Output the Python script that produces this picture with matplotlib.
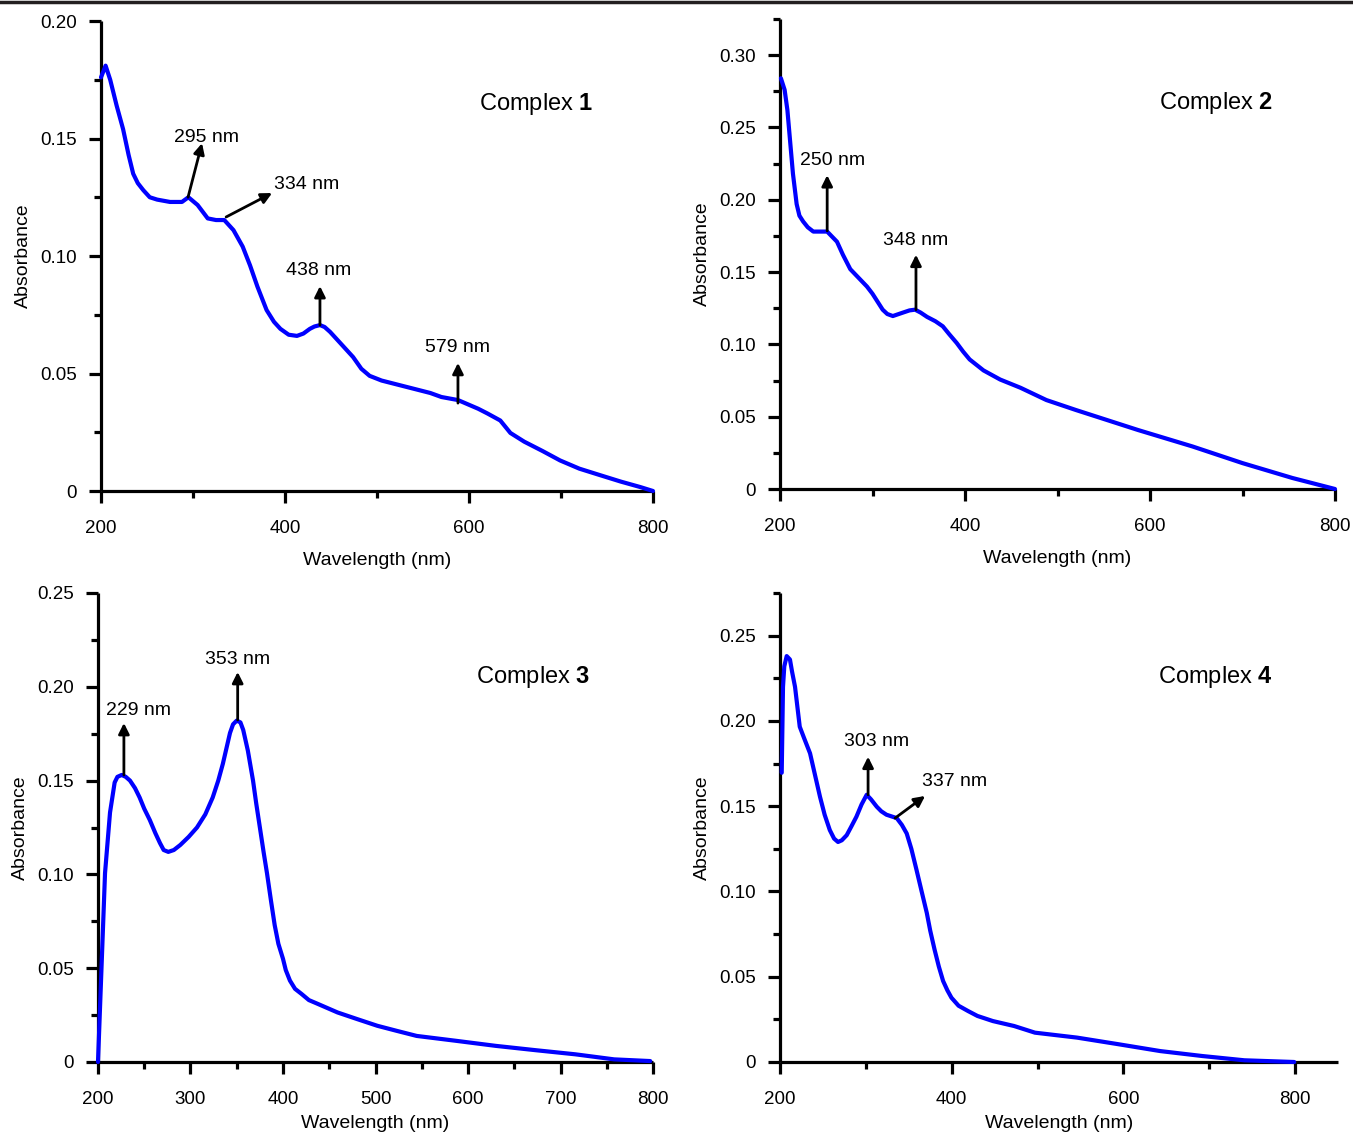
import matplotlib
matplotlib.use("Agg")
import matplotlib.pyplot as plt
from matplotlib.ticker import FixedLocator, FuncFormatter
from matplotlib.lines import Line2D

plt.rcParams['font.family'] = ['Liberation Sans', 'DejaVu Sans']
plt.rcParams['mathtext.fontset'] = 'custom'
plt.rcParams['mathtext.rm'] = 'Liberation Sans'
plt.rcParams['mathtext.bf'] = 'Liberation Sans:bold'

# ---------------- data ----------------
wl1 = [200, 205, 210, 217, 224, 230, 235, 240, 246, 253, 261, 275, 288, 295, 305, 316, 325, 334, 344,
       354, 362, 370, 380, 388, 395, 404, 413, 420, 427, 432, 438, 443, 449, 460, 474, 483, 492, 505,
       525, 540, 558, 570, 588, 610, 620, 634, 645, 660, 680, 699, 720, 742, 765, 786, 800]
ab1 = [0.176, 0.181, 0.175, 0.164, 0.154, 0.143, 0.135, 0.131, 0.128, 0.125, 0.124, 0.123, 0.123,
       0.125, 0.1217, 0.116, 0.1153, 0.1153, 0.111, 0.104, 0.096, 0.087, 0.077, 0.072, 0.069, 0.0665,
       0.066, 0.067, 0.069, 0.070, 0.0706, 0.0698, 0.0677, 0.063, 0.057, 0.052, 0.049, 0.047, 0.045,
       0.0435, 0.0417, 0.040, 0.0387, 0.035, 0.033, 0.030, 0.0247, 0.021, 0.017, 0.013, 0.0095, 0.0068,
       0.004, 0.0017, 0.0]

wl2 = [201, 205, 208, 211, 214, 218, 221, 225, 230, 236, 251, 261.6, 268, 276, 285, 294, 300, 305, 311,
       316, 322, 333, 340, 346, 352, 359, 368, 376, 383, 391, 398, 405, 420, 438, 460, 488, 520, 587,
       646, 700, 754, 800]
ab2 = [0.284, 0.276, 0.262, 0.240, 0.218, 0.197, 0.189, 0.185, 0.181, 0.178, 0.178, 0.171, 0.162,
       0.152, 0.146, 0.140, 0.135, 0.130, 0.124, 0.121, 0.1196, 0.122, 0.1235, 0.124, 0.122, 0.119,
       0.116, 0.1125, 0.107, 0.101, 0.095, 0.0896, 0.082, 0.0757, 0.070, 0.0615, 0.0546, 0.0408, 0.0294,
       0.0179, 0.0076, 0.0]

wl3 = [200, 207.6, 213, 218, 221, 225.6, 230, 234.6, 240, 245, 250, 256, 262, 267, 271, 276, 282, 289,
       298, 307, 316, 324, 330, 335, 342.7, 346, 350, 354, 357, 362, 367.6, 371, 375, 379, 382.7, 387,
       391, 395, 400, 403, 407.5, 413, 420, 428, 437.5, 459, 480, 502, 523, 544.5, 587, 630, 673, 716,
       758, 797]
ab3 = [0.0, 0.1007, 0.133, 0.149, 0.152, 0.153, 0.152, 0.150, 0.146, 0.141, 0.135, 0.129, 0.122,
       0.1167, 0.113, 0.112, 0.113, 0.1157, 0.120, 0.125, 0.132, 0.141, 0.150, 0.159, 0.1754, 0.180,
       0.182, 0.181, 0.177, 0.166, 0.150, 0.138, 0.125, 0.112, 0.1006, 0.086, 0.073, 0.063, 0.055,
       0.049, 0.0434, 0.039, 0.0363, 0.033, 0.031, 0.0264, 0.0229, 0.0193, 0.0166, 0.0139, 0.0113,
       0.0086, 0.0063, 0.0041, 0.0014, 0.0005]

wl4 = [202, 203.5, 205, 207.8, 211.6, 214, 217.5, 223, 228, 235, 240, 246.6, 252, 258, 263, 267.6, 272,
       277.7, 283, 289, 295, 301, 306, 312.7, 318, 324, 330, 336, 342, 347.6, 353, 359, 365, 371, 375,
       380, 385, 390, 395, 399.7, 408, 419, 430, 448, 472.7, 497, 546, 594.5, 643, 692, 741, 799]
ab4 = [0.1696, 0.220, 0.232, 0.238, 0.236, 0.229, 0.220, 0.1966, 0.190, 0.181, 0.170, 0.1555, 0.145,
       0.136, 0.131, 0.129, 0.130, 0.133, 0.138, 0.1438, 0.151, 0.1567, 0.154, 0.1497, 0.147, 0.145,
       0.144, 0.143, 0.139, 0.134, 0.125, 0.1127, 0.100, 0.0874, 0.077, 0.066, 0.056, 0.0475, 0.042,
       0.0377, 0.033, 0.0299, 0.027, 0.024, 0.0211, 0.0172, 0.0143, 0.0104, 0.0064, 0.0035, 0.001, 0.0]

labels1 = ["295 nm", "334 nm", "438 nm", "579 nm"]
labels2 = ["250 nm", "348 nm"]
labels3 = ["229 nm", "353 nm"]
labels4 = ["303 nm", "337 nm"]
titles = ["1", "2", "3", "4"]

# ---------------- layout / styles ----------------
W, H = 1353, 1133
fig = plt.figure(figsize=(W / 100, H / 100), dpi=100)


def frac(l, r, t, b):
    return [l / W, 1 - b / H, (r - l) / W, (b - t) / H]


panels = [
    dict(wl=wl1, ab=ab1, rect=frac(101, 653, 21, 491), xlim=(200, 800), ylim=(0, 0.20),
         xmaj=[200, 400, 600, 800], xmin=[300, 500, 700],
         ymaj=[0, 0.05, 0.10, 0.15, 0.20], ymin=[0.025, 0.075, 0.125, 0.175],
         title_pos=(673, 0.1647), labels=labels1, xlabelpad=11,
         ann=[((315, 0.1506), (294.6, 0.125), (309.8, 0.148)),
              ((423, 0.1306), (336, 0.1166), (386, 0.1268)),
              ((437, 0.094), (438, 0.0706), (438, 0.0872)),
              ((587, 0.0609), (588, 0.0374), (588, 0.0545))]),
    dict(wl=wl2, ab=ab2, rect=frac(780, 1335, 19, 489), xlim=(200, 800), ylim=(0, 0.325),
         xmaj=[200, 400, 600, 800], xmin=[300, 500, 700],
         ymaj=[0, 0.05, 0.10, 0.15, 0.20, 0.25, 0.30],
         ymin=[0.025, 0.075, 0.125, 0.175, 0.225, 0.275, 0.325],
         title_pos=(671, 0.267), labels=labels2, xlabelpad=11,
         ann=[((257, 0.227), (251, 0.1785), (251, 0.217)),
              ((347, 0.1715), (347, 0.124), (347, 0.162))]),
    dict(wl=wl3, ab=ab3, rect=frac(98, 653, 593, 1062), xlim=(200, 800), ylim=(0, 0.25),
         xmaj=[200, 300, 400, 500, 600, 700, 800], xmin=[250, 350, 450, 550, 650, 750],
         ymaj=[0, 0.05, 0.10, 0.15, 0.20, 0.25], ymin=[0.025, 0.075, 0.125, 0.175, 0.225],
         title_pos=(670, 0.205), labels=labels3, xlabelpad=5,
         ann=[((244, 0.1876), (228, 0.153), (228, 0.1807)),
              ((351, 0.2148), (351, 0.1823), (351, 0.2079))]),
    dict(wl=wl4, ab=ab4, rect=frac(780, 1338, 593, 1062), xlim=(200, 850), ylim=(0, 0.275),
         xmaj=[200, 400, 600, 800], xmin=[300, 500, 700],
         ymaj=[0, 0.05, 0.10, 0.15, 0.20, 0.25], ymin=[0.025, 0.075, 0.125, 0.175, 0.225, 0.275],
         title_pos=(707, 0.226), labels=labels4, xlabelpad=5,
         ann=[((312, 0.1878), (302.6, 0.1567), (302.6, 0.179)),
              ((403, 0.1643), (334, 0.143), (369, 0.156))]),
]

fmt = FuncFormatter(lambda v, p: "0" if abs(v) < 1e-9 else f"{v:.2f}")

for i, P in enumerate(panels):
    ax = fig.add_axes(P['rect'])
    ax.plot(P['wl'], P['ab'], color='#0000ff', lw=3.0, solid_joinstyle='round',
            solid_capstyle='round', zorder=3, clip_on=False)
    ax.set_xlim(*P['xlim'])
    ax.set_ylim(*P['ylim'])
    for s in ['top', 'right']:
        ax.spines[s].set_visible(False)
    for s in ['left', 'bottom']:
        ax.spines[s].set_linewidth(2.3)
        ax.spines[s].set_capstyle('butt')
    ax.xaxis.set_major_locator(FixedLocator(P['xmaj']))
    ax.xaxis.set_minor_locator(FixedLocator(P['xmin']))
    ax.yaxis.set_major_locator(FixedLocator(P['ymaj']))
    ax.yaxis.set_minor_locator(FixedLocator(P['ymin']))
    ax.yaxis.set_major_formatter(fmt)
    ax.tick_params(which='major', direction='out', length=8.6, width=2.3, labelsize=13.5, pad=9)
    ax.tick_params(axis='x', which='major', pad=12)
    ax.tick_params(which='minor', direction='out', length=5, width=2.3)
    ax.set_xlabel("Wavelength (nm)", fontsize=14, labelpad=P['xlabelpad'])
    ax.set_ylabel("Absorbance", fontsize=14, labelpad=5.5)
    tx, ty = P['title_pos']
    ax.text(tx, ty, "Complex $\\mathbf{" + titles[i] + "}$", fontsize=17, ha='center', va='center')
    for lab, (tpos, tail, head) in zip(P['labels'], P['ann']):
        ax.text(tpos[0], tpos[1], lab, fontsize=14, ha='center', va='center')
        ax.annotate("", xy=head, xytext=tail,
                    arrowprops=dict(arrowstyle='-|>', color='black', lw=2.0,
                                    mutation_scale=16, shrinkA=0, shrinkB=0))

fig.add_artist(Line2D([0, 1], [1 - 1.5 / H, 1 - 1.5 / H], transform=fig.transFigure,
                      color='#231f20', lw=2.5))

fig.savefig("out.png", dpi=100)
